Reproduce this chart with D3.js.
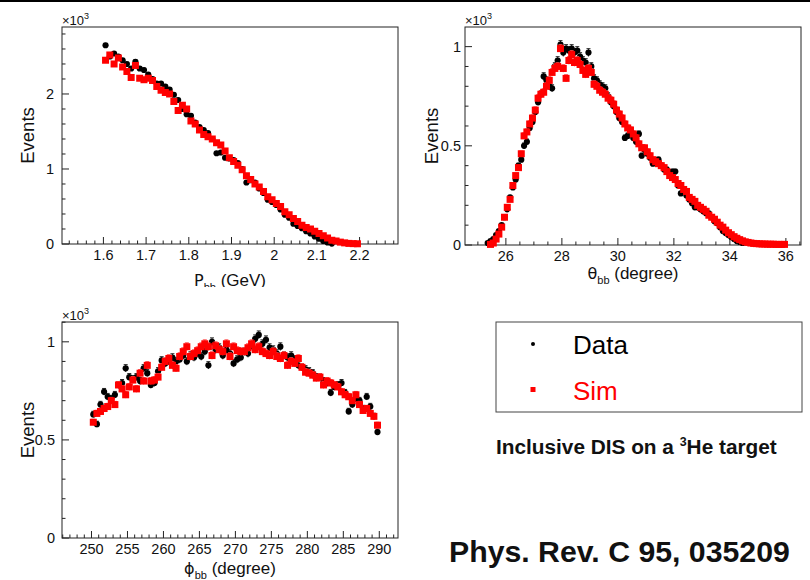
<!DOCTYPE html>
<html><head><meta charset="utf-8">
<script src="https://cdn.jsdelivr.net/npm/d3@7"></script>
<style>
body{margin:0;background:#fff}
svg{display:block}
text{font-family:"Liberation Sans",Arial,Helvetica,sans-serif}
</style>
</head><body>
<svg id="c" width="810" height="580"></svg>
<script>
// ---------------- data (values in units of 10^3 events) ----------------
const pXTicks = [1.6,1.7,1.8,1.9,2.0,2.1,2.2];
const pYTicks = [0,1,2];
const pData = [[1.605,2.65],[1.615,2.50],[1.625,2.54],[1.635,2.50],[1.645,2.45],[1.655,2.40],[1.665,2.34],[1.675,2.43],[1.685,2.34],[1.695,2.32],[1.705,2.26],[1.715,2.20],[1.725,2.14],[1.735,2.14],[1.745,2.10],[1.755,2.06],[1.765,1.99],[1.775,1.92],[1.785,1.80],[1.795,1.73],[1.805,1.71],[1.815,1.62],[1.825,1.56],[1.835,1.52],[1.845,1.48],[1.855,1.40],[1.865,1.21],[1.875,1.22],[1.885,1.15],[1.895,1.14],[1.905,1.12],[1.915,1.08],[1.925,1.00],[1.935,0.82],[1.945,0.85],[1.955,0.82],[1.965,0.74],[1.975,0.68],[1.985,0.59],[1.995,0.56],[2.005,0.52],[2.015,0.46],[2.025,0.39],[2.035,0.35],[2.045,0.27],[2.055,0.24],[2.065,0.21],[2.075,0.17],[2.085,0.14],[2.095,0.10],[2.105,0.07],[2.115,0.04],[2.125,0.02],[2.135,0.005]];
const pSim = [[1.605,2.45],[1.615,2.52],[1.625,2.40],[1.635,2.48],[1.645,2.36],[1.655,2.30],[1.665,2.22],[1.675,2.38],[1.685,2.21],[1.695,2.19],[1.705,2.21],[1.715,2.18],[1.725,2.10],[1.735,2.05],[1.745,2.02],[1.755,2.00],[1.765,1.90],[1.775,1.78],[1.785,1.85],[1.795,1.80],[1.805,1.64],[1.815,1.60],[1.825,1.52],[1.835,1.46],[1.845,1.43],[1.855,1.40],[1.865,1.35],[1.875,1.32],[1.885,1.24],[1.895,1.15],[1.905,1.10],[1.915,1.05],[1.925,0.99],[1.935,0.91],[1.945,0.86],[1.955,0.80],[1.965,0.76],[1.975,0.70],[1.985,0.63],[1.995,0.59],[2.005,0.54],[2.015,0.50],[2.025,0.43],[2.035,0.39],[2.045,0.34],[2.055,0.30],[2.065,0.25],[2.075,0.22],[2.085,0.20],[2.095,0.17],[2.105,0.14],[2.115,0.11],[2.125,0.08],[2.135,0.05],[2.145,0.04],[2.155,0.025],[2.165,0.015],[2.175,0.008],[2.185,0.005],[2.195,0.003]];

const thXTicks = [26,28,30,32,34,36];
const thYTicks = [0,0.5,1];
const thData = [[25.35,0.01],[25.45,0.02],[25.55,0.03],[25.65,0.05],[25.75,0.07],[25.85,0.10],[25.95,0.14],[26.05,0.18],[26.15,0.24],[26.25,0.29],[26.35,0.33],[26.45,0.40],[26.55,0.43],[26.65,0.50],[26.75,0.52],[26.85,0.59],[26.95,0.62],[27.05,0.67],[27.15,0.72],[27.25,0.76],[27.35,0.85],[27.45,0.83],[27.55,0.80],[27.65,0.79],[27.75,0.90],[27.85,0.93],[27.95,1.01],[28.05,0.97],[28.15,0.99],[28.25,0.98],[28.35,0.99],[28.45,0.97],[28.55,0.98],[28.65,0.95],[28.75,0.93],[28.85,0.92],[28.95,0.97],[29.05,0.90],[29.15,0.84],[29.25,0.83],[29.35,0.81],[29.45,0.80],[29.55,0.79],[29.65,0.75],[29.75,0.72],[29.85,0.70],[29.95,0.67],[30.05,0.64],[30.15,0.62],[30.25,0.54],[30.35,0.55],[30.45,0.57],[30.55,0.54],[30.65,0.52],[30.75,0.56],[30.85,0.45],[30.95,0.48],[31.05,0.46],[31.15,0.44],[31.25,0.41],[31.35,0.42],[31.45,0.43],[31.55,0.40],[31.65,0.38],[31.75,0.38],[31.85,0.36],[31.95,0.37],[32.05,0.37],[32.15,0.30],[32.25,0.26],[32.35,0.27],[32.45,0.25],[32.55,0.23],[32.65,0.21],[32.75,0.19],[32.85,0.19],[32.95,0.18],[33.05,0.17],[33.15,0.16],[33.25,0.16],[33.35,0.14],[33.45,0.12],[33.55,0.11],[33.65,0.09],[33.75,0.07],[33.85,0.06],[33.95,0.05],[34.05,0.04],[34.15,0.03],[34.25,0.02],[34.35,0.015],[34.45,0.01]];
const thSim = [[25.45,0.003],[25.55,0.01],[25.65,0.03],[25.75,0.055],[25.85,0.09],[25.95,0.14],[26.05,0.19],[26.15,0.23],[26.25,0.30],[26.35,0.35],[26.45,0.39],[26.55,0.46],[26.65,0.55],[26.75,0.57],[26.85,0.61],[26.95,0.64],[27.05,0.68],[27.15,0.74],[27.25,0.76],[27.35,0.77],[27.45,0.80],[27.55,0.83],[27.65,0.87],[27.75,0.89],[27.85,0.90],[27.95,0.99],[28.05,0.89],[28.15,0.84],[28.25,0.93],[28.35,0.96],[28.45,0.92],[28.55,0.93],[28.65,0.91],[28.75,0.88],[28.85,0.86],[28.95,0.89],[29.05,0.87],[29.15,0.81],[29.25,0.80],[29.35,0.78],[29.45,0.77],[29.55,0.76],[29.65,0.74],[29.75,0.73],[29.85,0.71],[29.95,0.68],[30.05,0.66],[30.15,0.64],[30.25,0.61],[30.35,0.59],[30.45,0.58],[30.55,0.56],[30.65,0.54],[30.75,0.51],[30.85,0.49],[30.95,0.49],[31.05,0.47],[31.15,0.45],[31.25,0.43],[31.35,0.42],[31.45,0.41],[31.55,0.40],[31.65,0.39],[31.75,0.37],[31.85,0.35],[31.95,0.34],[32.05,0.33],[32.15,0.31],[32.25,0.30],[32.35,0.28],[32.45,0.27],[32.55,0.24],[32.65,0.23],[32.75,0.22],[32.85,0.20],[32.95,0.19],[33.05,0.18],[33.15,0.17],[33.25,0.15],[33.35,0.14],[33.45,0.13],[33.55,0.115],[33.65,0.10],[33.75,0.09],[33.85,0.075],[33.95,0.062],[34.05,0.052],[34.15,0.042],[34.25,0.034],[34.35,0.027],[34.45,0.021],[34.55,0.016],[34.65,0.013],[34.75,0.010],[34.85,0.008],[34.95,0.007],[35.05,0.006],[35.15,0.005],[35.25,0.005],[35.35,0.004],[35.45,0.004],[35.55,0.004],[35.65,0.003],[35.75,0.003],[35.85,0.003],[35.95,0.003]];

const phXTicks = [250,255,260,265,270,275,280,285,290];
const phYTicks = [0,0.5,1];
const phData = [[250.25,0.63],[250.75,0.58],[251.25,0.68],[251.75,0.745],[252.25,0.72],[252.75,0.71],[253.25,0.73],[253.75,0.78],[254.25,0.79],[254.75,0.865],[255.25,0.82],[255.75,0.81],[256.25,0.82],[256.75,0.80],[257.25,0.865],[257.75,0.84],[258.25,0.78],[258.75,0.79],[259.25,0.85],[259.75,0.905],[260.25,0.89],[260.75,0.90],[261.25,0.92],[261.75,0.90],[262.25,0.91],[262.75,0.93],[263.25,0.90],[263.75,0.93],[264.25,0.92],[264.75,0.94],[265.25,0.925],[265.75,0.95],[266.25,0.88],[266.75,1.00],[267.25,0.96],[267.75,0.97],[268.25,0.93],[268.75,0.96],[269.25,0.94],[269.75,0.89],[270.25,0.91],[270.75,0.92],[271.25,0.95],[271.75,0.94],[272.25,0.98],[272.75,1.015],[273.25,1.035],[273.75,0.99],[274.25,1.01],[274.75,0.97],[275.25,0.96],[275.75,0.94],[276.25,0.975],[276.75,0.93],[277.25,0.92],[277.75,0.93],[278.25,0.91],[278.75,0.88],[279.25,0.87],[279.75,0.86],[280.25,0.85],[280.75,0.84],[281.25,0.82],[281.75,0.82],[282.25,0.80],[282.75,0.79],[283.25,0.74],[283.75,0.77],[284.25,0.78],[284.75,0.79],[285.25,0.74],[285.75,0.645],[286.25,0.68],[286.75,0.71],[287.25,0.70],[287.75,0.66],[288.25,0.72],[288.75,0.67],[289.25,0.62],[289.75,0.54]];
const phSim = [[250.25,0.59],[250.75,0.635],[251.25,0.645],[251.75,0.66],[252.25,0.67],[252.75,0.70],[253.25,0.68],[253.75,0.78],[254.25,0.76],[254.75,0.73],[255.25,0.77],[255.75,0.805],[256.25,0.76],[256.75,0.84],[257.25,0.80],[257.75,0.88],[258.25,0.80],[258.75,0.805],[259.25,0.82],[259.75,0.87],[260.25,0.90],[260.75,0.915],[261.25,0.88],[261.75,0.865],[262.25,0.925],[262.75,0.95],[263.25,0.975],[263.75,0.925],[264.25,0.94],[264.75,0.955],[265.25,0.975],[265.75,0.99],[266.25,0.975],[266.75,0.93],[267.25,0.98],[267.75,0.96],[268.25,0.95],[268.75,0.99],[269.25,0.925],[269.75,0.975],[270.25,0.955],[270.75,0.95],[271.25,0.95],[271.75,0.97],[272.25,0.99],[272.75,0.96],[273.25,0.975],[273.75,0.95],[274.25,0.94],[274.75,0.93],[275.25,0.95],[275.75,0.925],[276.25,0.915],[276.75,0.93],[277.25,0.88],[277.75,0.90],[278.25,0.89],[278.75,0.915],[279.25,0.87],[279.75,0.845],[280.25,0.84],[280.75,0.83],[281.25,0.815],[281.75,0.82],[282.25,0.78],[282.75,0.80],[283.25,0.79],[283.75,0.78],[284.25,0.77],[284.75,0.745],[285.25,0.73],[285.75,0.72],[286.25,0.70],[286.75,0.73],[287.25,0.68],[287.75,0.65],[288.25,0.66],[288.75,0.635],[289.25,0.62],[289.75,0.575]];

const legendLabels = ["Data","Sim"];

// ---------------- drawing ----------------
const svg = d3.select("#c");
svg.append("rect").attr("x",0).attr("y",0).attr("width",810).attr("height",580).attr("fill","#fff");
svg.append("rect").attr("x",0).attr("y",0).attr("width",810).attr("height",2).attr("fill","#000");

const RED = "#ff0000";

function panel(cfg){
  const g = svg.append("g");
  if (cfg.clipH){
    const id = "clip"+cfg.id;
    svg.append("defs").append("clipPath").attr("id",id)
      .append("rect").attr("x",0).attr("y",0).attr("width",810).attr("height",cfg.clipH);
    g.attr("clip-path","url(#"+id+")");
  }
  const x = d3.scaleLinear().domain(cfg.xDom).range([cfg.L,cfg.R]);
  const y = d3.scaleLinear().domain(cfg.yDom).range([cfg.B,cfg.T]);

  g.append("rect").attr("x",cfg.L).attr("y",cfg.T).attr("width",cfg.R-cfg.L).attr("height",cfg.B-cfg.T)
   .attr("fill","none").attr("stroke","#222").attr("stroke-width",1);

  const xMinor = d3.range(Math.ceil(cfg.xDom[0]/cfg.xMinStep)*cfg.xMinStep, cfg.xDom[1], cfg.xMinStep)
     .filter(v=>!cfg.xTicks.some(t=>Math.abs(t-v)<1e-6));
  g.selectAll(".xmj").data(cfg.xTicks).join("line")
   .attr("x1",d=>x(d)).attr("x2",d=>x(d)).attr("y1",cfg.B).attr("y2",cfg.B-7).attr("stroke","#222");
  g.selectAll(".xmn").data(xMinor).join("line")
   .attr("x1",d=>x(d)).attr("x2",d=>x(d)).attr("y1",cfg.B).attr("y2",cfg.B-3.5).attr("stroke","#222");
  const yMinor = d3.range(cfg.yDom[0], cfg.yDom[1], cfg.yMinStep)
     .filter(v=>!cfg.yTicks.some(t=>Math.abs(t-v)<1e-6));
  g.selectAll(".ymj").data(cfg.yTicks).join("line")
   .attr("y1",d=>y(d)).attr("y2",d=>y(d)).attr("x1",cfg.L).attr("x2",cfg.L+7).attr("stroke","#222");
  g.selectAll(".ymn").data(yMinor).join("line")
   .attr("y1",d=>y(d)).attr("y2",d=>y(d)).attr("x1",cfg.L).attr("x2",cfg.L+3.5).attr("stroke","#222");

  g.selectAll(".xl").data(cfg.xTicks).join("text")
   .attr("x",d=>x(d)).attr("y",cfg.B+15.5).attr("text-anchor","middle")
   .attr("font-size",cfg.tickFs).attr("fill","#111").text(d=>cfg.xFmt(d));
  g.selectAll(".yl").data(cfg.yTicks).join("text")
   .attr("x",cfg.L-cfg.yLabGap).attr("y",d=>y(d)+cfg.tickFs*0.36).attr("text-anchor","end")
   .attr("font-size",cfg.tickFs).attr("fill","#111").text(d=>cfg.yFmt(d));

  const e = g.append("text").attr("x",cfg.L).attr("y",cfg.T-2).attr("font-size",13).attr("fill","#111");
  e.append("tspan").text("\u00d710");
  e.append("tspan").attr("dy",-6).attr("font-size",9).text("3");

  g.append("text").attr("transform",`translate(${cfg.yTitX},${(cfg.T+cfg.B)/2}) rotate(-90)`)
   .attr("text-anchor","middle").attr("font-size",18.5).attr("fill","#111").text("Events");

  const xt = g.append("text").attr("x",(cfg.L+cfg.R)/2).attr("y",cfg.xTitY).attr("text-anchor","middle")
     .attr("font-size",17).attr("fill","#111");
  xt.append("tspan").attr("font-family","'DejaVu Sans',sans-serif").attr("font-size",16).text(cfg.xSym);
  xt.append("tspan").attr("dy",5).attr("font-size",11).text("bb");
  xt.append("tspan").attr("dy",-5).text(" "+cfg.xUnit);

  function series(arr, color, barColor, shape){
    const s = g.append("g");
    const hi = d=>y(d[1]+cfg.errK*Math.sqrt(d[1]));
    const lo = d=>y(Math.max(0,d[1]-cfg.errK*Math.sqrt(d[1])));
    s.selectAll("line.e").data(arr).join("line")
     .attr("x1",d=>x(d[0])).attr("x2",d=>x(d[0])).attr("y1",hi).attr("y2",lo)
     .attr("stroke",barColor).attr("stroke-width",1);
    s.selectAll("line.c").data(arr).join("line")
     .attr("x1",d=>x(d[0])-2).attr("x2",d=>x(d[0])+2).attr("y1",hi).attr("y2",hi)
     .attr("stroke",barColor).attr("stroke-width",1);
    if (shape==="circle"){
      s.selectAll("circle").data(arr).join("circle")
       .attr("cx",d=>x(d[0])).attr("cy",d=>y(d[1])).attr("r",3.1).attr("fill",color);
    } else {
      s.selectAll("rect").data(arr).join("rect")
       .attr("x",d=>x(d[0])-3.5).attr("y",d=>y(d[1])-3.5).attr("width",7).attr("height",7).attr("fill",color);
    }
  }
  series(cfg.data,"#000","#222","circle");
  series(cfg.sim,RED,"#ff4848","square");
}

const fmt1 = d3.format(".1f");
panel({id:"p", L:62,R:398,T:27,B:244, xDom:[1.503,2.290], yDom:[0,2.893],
  xTicks:pXTicks, xMinStep:0.02, yTicks:pYTicks, yMinStep:0.2,
  xFmt:d=>(Math.abs(d-2)<1e-9?"2":fmt1(d)), yFmt:d=>String(d), tickFs:14.5, yLabGap:8,
  yTitX:34, xTitY:286, xSym:"P", xUnit:"(GeV)", errK:0.015, clipH:287,
  data:pData, sim:pSim});
panel({id:"t", L:465,R:801,T:27,B:245, xDom:[24.54,36.54], yDom:[0,1.099],
  xTicks:thXTicks, xMinStep:0.5, yTicks:thYTicks, yMinStep:0.1,
  xFmt:d=>String(d), yFmt:d=>String(d), tickFs:14.5, yLabGap:4,
  yTitX:438, xTitY:279, xSym:"\u03b8", xUnit:"(degree)", errK:0.02,
  data:thData, sim:thSim});
panel({id:"f", L:62,R:398,T:322,B:538, xDom:[245.9,292.6], yDom:[0,1.101],
  xTicks:phXTicks, xMinStep:1, yTicks:phYTicks, yMinStep:0.1,
  xFmt:d=>String(d), yFmt:d=>String(d), tickFs:14.5, yLabGap:7,
  yTitX:34, xTitY:574, xSym:"\u03d5", xUnit:"(degree)", errK:0.02,
  data:phData, sim:phSim});

// legend
const lg = svg.append("g");
lg.append("rect").attr("x",496).attr("y",322).attr("width",306).attr("height",90)
  .attr("fill","#fff").attr("stroke","#444").attr("stroke-width",1);
lg.append("circle").attr("cx",533).attr("cy",344).attr("r",2).attr("fill","#000");
lg.append("rect").attr("x",530.5).attr("y",387).attr("width",5).attr("height",5).attr("fill",RED);
lg.append("text").attr("x",573).attr("y",354).attr("font-size",26).attr("fill","#000").text(legendLabels[0]);
lg.append("text").attr("x",573).attr("y",400).attr("font-size",26).attr("fill",RED).text(legendLabels[1]);

const note = svg.append("text").attr("transform","translate(496,454) scale(1.04,1)")
  .attr("font-size",20).attr("font-weight","bold").attr("fill","#111");
note.append("tspan").text("Inclusive DIS on a  ");
note.append("tspan").attr("dy",-8).attr("font-size",12).text("3");
note.append("tspan").attr("dy",8).text("He target");

// journal reference: size the font so its natural width is ~341 px
const ref = svg.append("text").attr("x",449).attr("y",562).attr("font-size",32).attr("font-weight","bold")
  .attr("font-family","Lato, 'Open Sans', sans-serif").attr("fill","#111").text("Phys. Rev. C 95, 035209");
const w0 = ref.node().getComputedTextLength();
ref.attr("font-size", 32*341/w0);
</script>
</body></html>
